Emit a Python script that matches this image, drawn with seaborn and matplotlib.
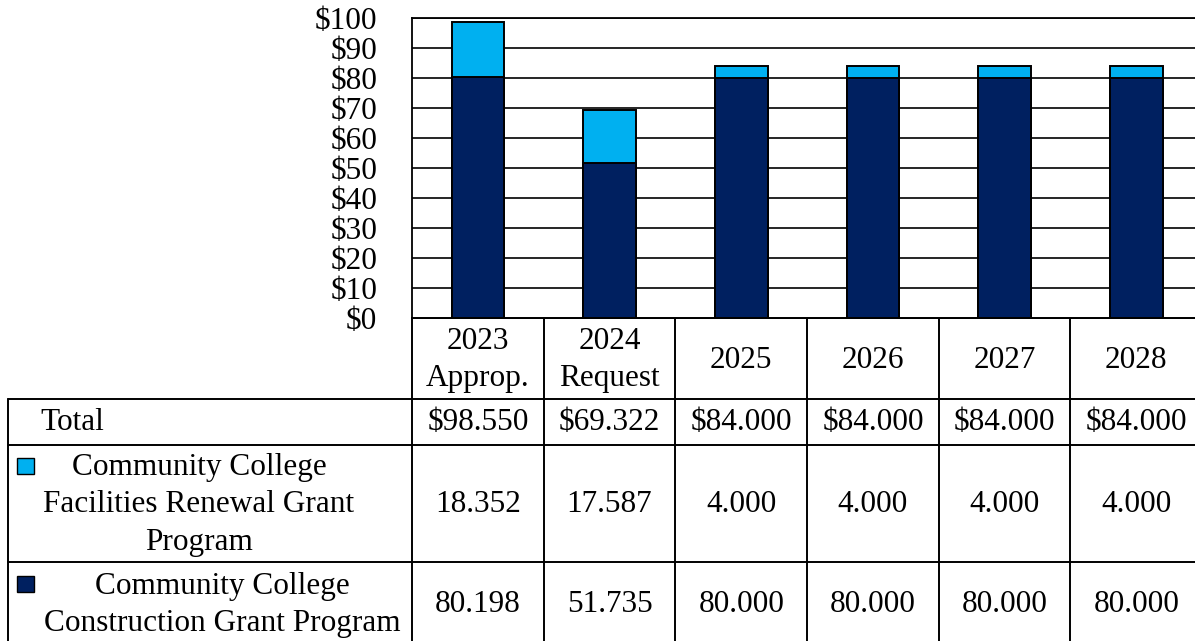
import matplotlib
matplotlib.use("Agg")
import matplotlib.pyplot as plt
import seaborn as sns
import pandas as pd
from matplotlib.patches import Rectangle

# dados do gráfico (milhões de dólares)
anos = ['2023\nApprop.', '2024\nRequest', '2025', '2026', '2027', '2028']
renewal = [18.352, 17.587, 4.000, 4.000, 4.000, 4.000]
construction = [80.198, 51.735, 80.000, 80.000, 80.000, 80.000]
totais = [98.550, 69.322, 84.000, 84.000, 84.000, 84.000]
serie_renewal = 'Community College\nFacilities Renewal Grant\nProgram'
serie_construction = 'Community College\nConstruction Grant Program'

cor_renewal = '#00B0F0'
cor_construction = '#002060'

sns.set_style('white')
plt.rcParams['font.family'] = ['Liberation Serif', 'DejaVu Serif']
plt.rcParams['text.color'] = 'black'
plt.rcParams['ytick.color'] = 'black'
plt.rcParams['ytick.labelcolor'] = 'black'

W, H = 1195, 641
fig = plt.figure(figsize=(W / 100, H / 100), dpi=100)

# área do gráfico em pixels
x0, y_top, y_bot = 412, 18, 318
col_w = 131.7
ax = fig.add_axes([x0 / W, (H - y_bot) / H, 6 * col_w / W, (y_bot - y_top) / H])

df = pd.DataFrame({'Ano': anos, 'Total': totais, 'Construcao': construction})

# barras empilhadas: total por baixo, construção por cima
sns.barplot(data=df, x='Ano', y='Total', color=cor_renewal, saturation=1,
            edgecolor='black', linewidth=1.4, width=0.4, ax=ax)
sns.barplot(data=df, x='Ano', y='Construcao', color=cor_construction, saturation=1,
            edgecolor='black', linewidth=1.4, width=0.4, ax=ax)

fs = 22.5
ax.set_ylim(0, 100)
ax.set_xlim(-0.5, 5.5)
ax.set_yticks(range(0, 101, 10))
ax.set_yticklabels([f'${v}' for v in range(0, 101, 10)], fontsize=fs, color='black')
ax.tick_params(axis='y', length=0, pad=25)
ax.set_xticks([])
ax.set_xlabel('')
ax.set_ylabel('')
ax.yaxis.grid(True, color='black', linewidth=1.2)
ax.set_axisbelow(True)
for lado in ['left', 'top', 'bottom']:
    ax.spines[lado].set_color('black')
    ax.spines[lado].set_linewidth(1.3)
ax.spines['right'].set_visible(False)

# tabela de dados abaixo do gráfico
tab = fig.add_axes([0, 0, 1, 1], zorder=-1)
tab.set_xlim(0, W)
tab.set_ylim(H, 0)
tab.axis('off')

lw = 1.4
linhas_y = [398.5, 444.5, 562]
left = 8
tab.plot([x0, W], [y_bot, y_bot], color='black', lw=lw)
for y in linhas_y:
    tab.plot([left, W], [y, y], color='black', lw=lw)
tab.plot([left, left], [398.5, H], color='black', lw=lw)
for i in range(6):
    xb = x0 + i * col_w
    tab.plot([xb, xb], [y_bot, H], color='black', lw=lw)

esp = 1.38
centros_y = [360, 422, 505, 605]
for i, ano in enumerate(anos):
    xc = x0 + (i + 0.5) * col_w
    tab.text(xc, centros_y[0], ano, ha='center', va='center', fontsize=fs, linespacing=esp)
    tab.text(xc, centros_y[1], f'${totais[i]:.3f}', ha='center', va='center', fontsize=fs)
    tab.text(xc, centros_y[2], f'{renewal[i]:.3f}', ha='center', va='center', fontsize=fs)
    tab.text(xc, centros_y[3], f'{construction[i]:.3f}', ha='center', va='center', fontsize=fs)

tab.text(40, centros_y[1], 'Total', ha='left', va='center', fontsize=fs)
tab.text(199, centros_y[2], serie_renewal, ha='center', va='center',
         fontsize=fs, linespacing=esp, multialignment='center')
tab.text(222, centros_y[3], serie_construction, ha='center', va='center',
         fontsize=fs, linespacing=esp, multialignment='center')

# marcadores de legenda
tab.add_patch(Rectangle((17, 458), 17, 16, facecolor=cor_renewal, edgecolor='black', lw=1))
tab.add_patch(Rectangle((17, 576), 17, 16, facecolor=cor_construction, edgecolor='black', lw=1))

fig.savefig('out.png', dpi=100)
